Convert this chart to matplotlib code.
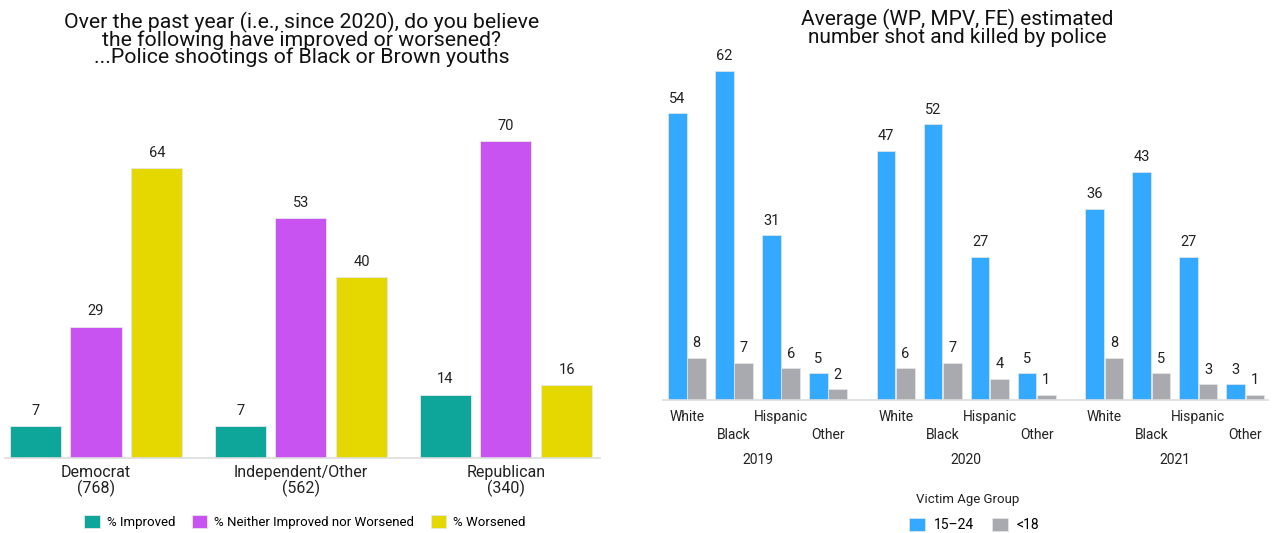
import matplotlib
matplotlib.use("Agg")
import matplotlib.pyplot as plt
from matplotlib.patches import Patch
from matplotlib.transforms import blended_transform_factory
import numpy as np

FONT = ['Roboto', 'DejaVu Sans']
plt.rcParams['font.family'] = FONT

# ---------------- data ----------------
parties = ["Democrat\n(768)", "Independent/Other\n(562)", "Republican\n(340)"]
series_left = ["% Improved", "% Neither Improved nor Worsened", "% Worsened"]
improved = [7, 7, 14]
neither = [29, 53, 70]
worsened = [64, 40, 16]
colors_left = ["#0ea59b", "#c853f1", "#e5d800"]

years = ["2019", "2020", "2021"]
races = ["White", "Black", "Hispanic", "Other"]
age_15_24 = [[54, 62, 31, 5], [47, 52, 27, 5], [36, 43, 27, 3]]
age_u18 = [[8, 7, 6, 2], [6, 7, 4, 1], [8, 5, 3, 1]]
age_groups = ["15–24", "<18"]
colors_right = ["#33a9ff", "#a9aab0"]

W, H = 1276, 533
fig = plt.figure(figsize=(W / 100, H / 100), dpi=100)

def fx(px):
    return px / W

def fy(py):
    return 1 - py / H

# ---------------- left chart ----------------
axL = fig.add_axes([fx(5), fy(458), fx(600) - fx(5), (458 - 118) / H])
x = np.arange(len(parties))
off, bw = 0.297, 0.249
for vals, o, c in zip([improved, neither, worsened], [-off, 0, off], colors_left):
    bars = axL.bar(x + o, vals, width=bw, color=c, edgecolor='#e8e8e8', linewidth=0.6)
    for b, v in zip(bars, vals):
        axL.text(b.get_x() + b.get_width() / 2, v + 1.8, str(v), ha='center', va='bottom',
                 fontsize=10.5, color='#222222')
axL.set_xlim(-0.444, 2.459)
axL.set_ylim(0, 75)
axL.set_yticks([])
axL.set_xticks(x)
axL.set_xticklabels(parties, fontsize=11.5, linespacing=0.95, color='#222222')
axL.tick_params(axis='x', length=0, pad=5)
for s in ['top', 'right', 'left']:
    axL.spines[s].set_visible(False)
axL.spines['bottom'].set_color('#dddddd')
axL.spines['bottom'].set_linewidth(1.2)

fig.text(fx(302), fy(12), "Over the past year (i.e., since 2020), do you believe\n"
         "the following have improved or worsened?\n...Police shootings of Black or Brown youths",
         ha='center', va='top', fontsize=15.3, linespacing=0.84, color='#111111')

handles = [Patch(facecolor=c, edgecolor='#e8e8e8', linewidth=0.6) for c in colors_left]
fig.legend(handles, series_left, loc='center', bbox_to_anchor=(fx(305), fy(522)), ncol=3,
           frameon=False, fontsize=9.5, handlelength=1.15, handleheight=1.15,
           columnspacing=1.25, handletextpad=0.55, borderpad=0.2)

# ---------------- right chart ----------------
axR = fig.add_axes([fx(663), fy(400), fx(1268) - fx(663), (400 - 55) / H])
ystep = 4.44
bw2 = 0.4
tick_pos, tick_lab = [], []
for yi, yr in enumerate(years):
    base = yi * ystep + np.arange(len(races))
    for vals, o, c in zip([age_15_24[yi], age_u18[yi]], [-0.205, 0.205], colors_right):
        bars = axR.bar(base + o, vals, width=bw2, color=c, edgecolor='#e8e8e8', linewidth=0.5)
        for b, v in zip(bars, vals):
            axR.text(b.get_x() + b.get_width() / 2, v + 1.4, str(v), ha='center', va='bottom',
                     fontsize=10.5, color='#222222')
    for i, r in enumerate(races):
        tick_pos.append(base[i])
        tick_lab.append(r if i % 2 == 0 else "\n" + r)
    axR.text(base.mean(), -0.174, yr, transform=blended_transform_factory(axR.transData, axR.transAxes),
             ha='center', va='center', fontsize=10, color='#222222')
axR.set_xlim(-0.51, 12.36)
axR.set_ylim(0, 65)
axR.set_yticks([])
axR.set_xticks(tick_pos)
axR.set_xticklabels(tick_lab, fontsize=10, linespacing=1.4, color='#222222')
axR.tick_params(axis='x', length=0, pad=7)
for s in ['top', 'right', 'left']:
    axR.spines[s].set_visible(False)
axR.spines['bottom'].set_color('#dddddd')
axR.spines['bottom'].set_linewidth(1.2)

fig.text(fx(957), fy(9), "Average (WP, MPV, FE) estimated\nnumber shot and killed by police",
         ha='center', va='top', fontsize=15, linespacing=0.85, color='#111111')

handles2 = [Patch(facecolor=c, edgecolor='#e8e8e8', linewidth=0.5) for c in colors_right]
fig.text(fx(968), fy(499), "Victim Age Group", ha='center', va='center', fontsize=9.5, color='#222222')
fig.legend(handles2, age_groups, loc='center', bbox_to_anchor=(fx(974), fy(525)), ncol=2,
           frameon=False, fontsize=10, handlelength=1.15, handleheight=1.15,
           columnspacing=1.3, handletextpad=0.6, borderpad=0.2)

fig.savefig("out.png", dpi=100)
